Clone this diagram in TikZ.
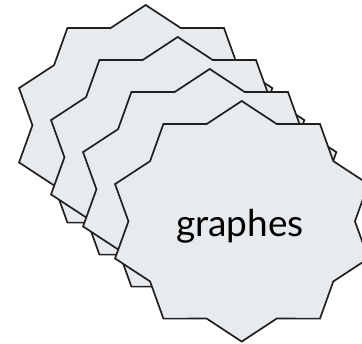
\documentclass[tikz,border=0pt]{standalone}
\usepackage{fontspec}
\setmainfont{Lato}
\definecolor{starfill}{HTML}{E8EBED}
\definecolor{starline}{HTML}{202020}
\begin{document}
\begin{tikzpicture}[x=1pt, y=1pt, line width=1.7pt, font=\fontsize{37}{40}\selectfont,
    graphstar/.style={draw=starline, fill=starfill, line join=miter, xscale=1.107}]
  \useasboundingbox (0,0) rectangle (362,344);
  \foreach \i in {0,...,3}
    \draw[shift={(145.7+32*\i,218.7-32*\i)}, graphstar] (90:120.3)
      \foreach \a in {0,...,8} { -- ({108+36*\a}:102.3) -- ({126+36*\a}:120.3) }
      -- (72:102.3) -- cycle;
  \node[anchor=base, text=black] (graphes) at (240,107.3) {graphes};
\end{tikzpicture}
\end{document}
